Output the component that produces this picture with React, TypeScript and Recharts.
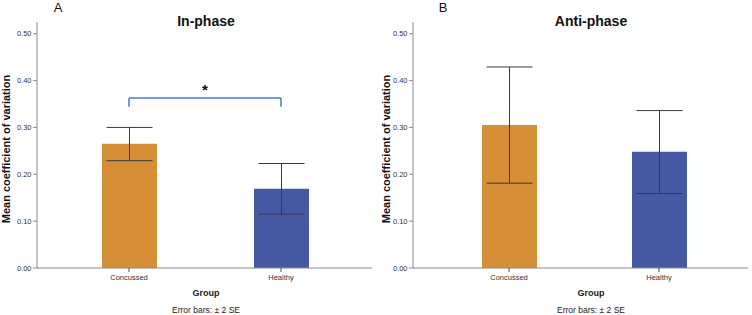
import { BarChart, Bar, XAxis, YAxis, Cell, ErrorBar, ReferenceLine } from 'recharts'

const GROUPS = ['Concussed', 'Healthy']
const BAR_COLORS = ['#D68F37', '#4559A3']
const Y_TICKS = [0, 0.1, 0.2, 0.3, 0.4, 0.5]

// panel A – in-phase
const IN_MEAN = [0.265, 0.169]
const IN_LOW = [0.229, 0.115]
const IN_HIGH = [0.300, 0.223]
// significance bracket (in-phase)
const SIG_TOP = 0.363
const SIG_FOOT = 0.344

// panel B – anti-phase
const ANTI_MEAN = [0.305, 0.248]
const ANTI_LOW = [0.181, 0.159]
const ANTI_HIGH = [0.429, 0.336]

const FONT = '"Liberation Sans", Arial, sans-serif'
const AXIS = '#8a8a8a'

const buildRows = (mean: number[], low: number[], high: number[]) =>
  GROUPS.map((g, i) => ({
    group: g,
    mean: mean[i],
    err: [mean[i] - low[i], high[i] - mean[i]],
  }))

type PanelProps = {
  letter: string
  title: string
  mean: number[]
  low: number[]
  high: number[]
  padLeft: number
  padRight: number
  labelX: number
  bracket?: boolean
}

function Panel({ letter, title, mean, low, high, padLeft, padRight, labelX, bracket }: PanelProps) {
  const rows = buildRows(mean, low, high)
  return (
    <div style={{ position: 'relative', width: 376, height: 315 }}>
      <BarChart width={376} height={315} data={rows} margin={{ top: 22, right: 4, bottom: 0, left: 7 }}>
        <YAxis
          width={30}
          domain={[0, 0.525]}
          ticks={Y_TICKS}
          tickFormatter={(v: number) => v.toFixed(2)}
          tick={{ fontSize: 7.5, fill: '#333', fontFamily: FONT }}
          tickSize={4}
          tickMargin={1.5}
          axisLine={{ stroke: AXIS }}
          tickLine={{ stroke: AXIS }}
        />
        <XAxis
          dataKey="group"
          height={47}
          padding={{ left: padLeft, right: padRight }}
          tick={{ fontSize: 7.5, fill: '#333', fontFamily: FONT }}
          tickSize={4}
          tickMargin={3}
          axisLine={{ stroke: AXIS }}
          tickLine={{ stroke: '#555' }}
        />
        <Bar dataKey="mean" barSize={55} isAnimationActive={false}>
          {rows.map((r, i) => (
            <Cell key={r.group} fill={BAR_COLORS[i]} />
          ))}
          <ErrorBar dataKey="err" width={23} stroke="#3a3a3a" strokeWidth={1} isAnimationActive={false} />
        </Bar>
        {bracket && (
          <ReferenceLine
            segment={[{ x: GROUPS[0], y: SIG_TOP }, { x: GROUPS[1], y: SIG_TOP }]}
            stroke="#4A78D2"
            strokeWidth={1.5}
            label={(p: any) => {
              const vb = p.viewBox || {}
              return (
                <text x={vb.x + vb.width / 2} y={vb.y - 3} textAnchor="middle"
                  fontSize={15} fontWeight="bold" fontFamily={FONT} fill="#111">*</text>
              )
            }}
          />
        )}
        {bracket && (
          <ReferenceLine
            segment={[{ x: GROUPS[0], y: SIG_FOOT }, { x: GROUPS[0], y: SIG_TOP }]}
            stroke="#4A78D2"
            strokeWidth={1.5}
          />
        )}
        {bracket && (
          <ReferenceLine
            segment={[{ x: GROUPS[1], y: SIG_FOOT }, { x: GROUPS[1], y: SIG_TOP }]}
            stroke="#4A78D2"
            strokeWidth={1.5}
          />
        )}
      </BarChart>
      <svg width={376} height={315} style={{ position: 'absolute', left: 0, top: 0, pointerEvents: 'none' }}>
        <text x={labelX - 1} y={12} textAnchor="middle" fontSize={13} fontFamily={FONT} fill="#111">{letter}</text>
        <text x={labelX + 147} y={26} textAnchor="middle" fontSize={14} fontWeight="bold" fontFamily={FONT} fill="#111">{title}</text>
        <text x={labelX + 147} y={296} textAnchor="middle" fontSize={9} fontWeight="bold" fontFamily={FONT} fill="#222">Group</text>
        <text x={labelX + 147} y={313} textAnchor="middle" fontSize={8.5} fontFamily={FONT} fill="#222">Error bars: ± 2 SE</text>
        <text x={0} y={0} transform={`translate(${letter === 'A' ? 10 : 13.5}, 149) rotate(-90)`} textAnchor="middle"
          fontSize={11} fontWeight="bold" fontFamily={FONT} fill="#111">Mean coefficient of variation</text>
      </svg>
    </div>
  )
}

export default function App() {
  return (
    <div style={{ position: 'absolute', left: 0, top: 0, width: 752, height: 315, display: 'flex', background: '#fff' }}>
      <Panel letter="A" title="In-phase" mean={IN_MEAN} low={IN_LOW} high={IN_HIGH}
        padLeft={16} padRight={15} labelX={59} bracket />
      <Panel letter="B" title="Anti-phase" mean={ANTI_MEAN} low={ANTI_LOW} high={ANTI_HIGH}
        padLeft={21} padRight={14} labelX={68} />
    </div>
  )
}
